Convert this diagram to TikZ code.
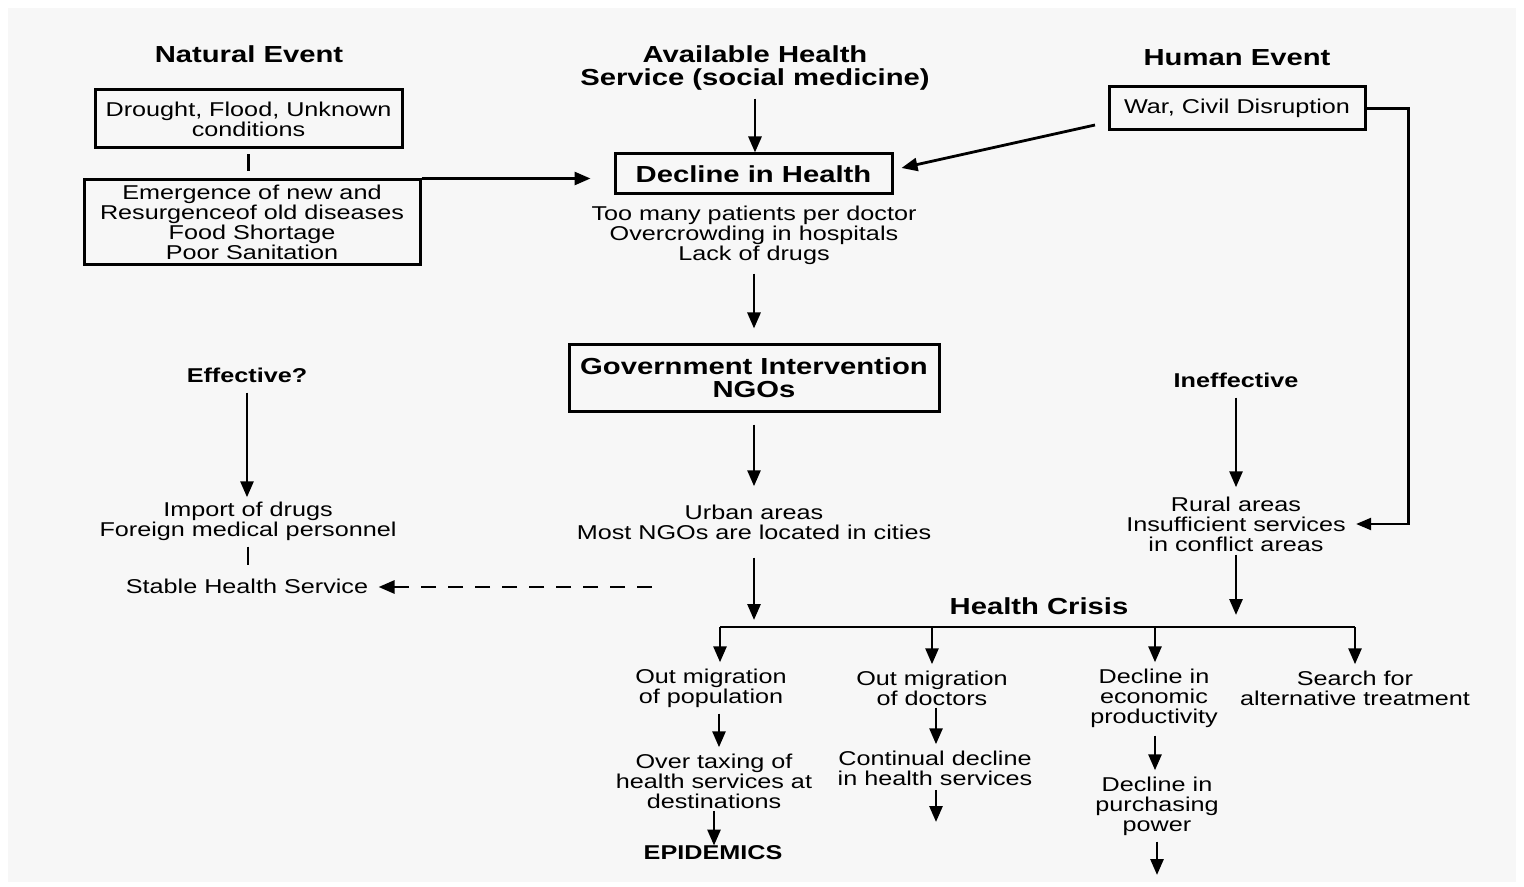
\documentclass[tikz,border=0pt]{standalone}
\usepackage{fontspec}
\setmainfont{Liberation Sans}[FakeStretch=1.26]
\usetikzlibrary{arrows.meta,calc}
\begin{document}
\begin{tikzpicture}[x=0.5pt,y=-0.5pt,
  txt/.style={font=\fontsize{10}{10}\selectfont, align=center, inner sep=1pt},
  hdr/.style={font=\fontsize{11.6}{11.5}\selectfont\bfseries, align=center, inner sep=1pt},
  sbold/.style={font=\fontsize{10}{10}\selectfont\bfseries, inner sep=1pt},
  box/.style={draw, line width=1.5pt, inner sep=0pt},
  tip/.style={-{Triangle[length=8pt,width=6.5pt]}},
  arr/.style={line width=1.4pt, tip},
  ln/.style={line width=1.4pt}]

\useasboundingbox (0,0) rectangle (1524,887);
\fill[white] (0,0) rectangle (1524,887);
\fill[black!3] (8,8) rectangle (1516,882);

% left column
\node[hdr] (nat) at (249,54) {Natural Event};
\node[txt,box,minimum width=153.5pt,minimum height=29pt] (drought) at (248.5,119) {Drought, Flood, Unknown\\conditions};
\node[txt,box,minimum width=168pt,minimum height=42.5pt] (emerg) at (252,222.5) {Emergence of new and\\Resurgenceof old diseases\\Food Shortage\\Poor Sanitation};
\node[sbold] (eff) at (247,375) {Effective?};
\node[txt] (import) at (248,521) {Import of drugs\\Foreign medical personnel};
\node[txt] (stable) at (247,586) {Stable Health Service};

% middle column
\node[hdr] (avail) at (755,68) {Available Health\\Service (social medicine)};
\node[hdr,box,minimum width=138.5pt,minimum height=20pt] (decline) at (753.5,174) {Decline in Health};
\node[txt] (symptoms) at (754,235) {Too many patients per doctor\\Overcrowding in hospitals\\Lack of drugs};
\node[hdr,box,minimum width=185pt,minimum height=33pt] (gov) at (754,378) {Government Intervention\\NGOs};
\node[txt] (urban) at (754,522) {Urban areas\\Most NGOs are located in cities};

% right column
\node[hdr] (human) at (1237,58) {Human Event};
\node[txt,box,minimum width=128pt,minimum height=21.5pt] (war) at (1237,108.5) {War, Civil Disruption};
\node[sbold] (ineff) at (1236,380) {Ineffective};
\node[txt] (rural) at (1236,524) {Rural areas\\Insufficient services\\in conflict areas};

% bottom
\node[hdr] (crisis) at (1039,606) {Health Crisis};
\node[txt] (ompop) at (711,688) {Out migration\\of population};
\node[txt] (omdoc) at (932,688) {Out migration\\of doctors};
\node[txt] (econ) at (1154,698) {Decline in\\economic\\productivity};
\node[txt] (search) at (1355,688) {Search for\\alternative treatment};
\node[txt] (overtax) at (714,781) {Over taxing of\\health services at\\destinations};
\node[sbold] (epid) at (713,853) {EPIDEMICS};
\node[txt] (contin) at (935,768) {Continual decline\\in health services};
\node[txt] (purch) at (1157,806) {Decline in\\purchasing\\power};

% free-end coordinates
\coordinate (b1) at (720,627);
\coordinate (b2) at (932,627);
\coordinate (b3) at (1155,627);
\coordinate (b4) at (1355,627);
\coordinate (u1) at (755,620);
\coordinate (r1) at (1237,615);
\coordinate (d1) at (936,822);
\coordinate (d2) at (1157,875);
\coordinate (dstart) at (652,587);
\coordinate (wstart) at (1095,125);
\coordinate (x1) at (719,0);
\coordinate (x2) at (714,0);

% connectors top
\draw[ln,shorten <=2.5pt,shorten >=3.5pt] (drought.south) -- (drought.south |- emerg.north);
\draw[arr] (emerg.north east) -- ([xshift=-11.5pt]decline.west |- emerg.north east);
\draw[arr,shorten <=3pt] (avail.south) -- (avail.south |- decline.north);
\draw[arr] (wstart) -- ([xshift=4pt,yshift=3pt]decline.east);
\draw[arr,shorten <=3.5pt,shorten >=7.5pt] (symptoms.south) -- (symptoms.south |- gov.north);
\draw[arr,shorten <=6pt,shorten >=8pt] (gov.south) -- (gov.south |- urban.north);
\draw[arr,shorten <=8pt] (urban.south) -- (urban.south |- u1);

% left
\draw[arr,shorten <=4pt,shorten >=1pt] (eff.south) -- (eff.south |- import.north);
\draw[ln,shorten <=2pt,shorten >=5.5pt] (import.south) -- (import.south |- stable.north);
\draw[line width=1.4pt,dash pattern=on 7.5pt off 6pt,tip,shorten >=4pt] (dstart) -- (stable.east |- dstart);

% right
\draw[arr,shorten <=4pt,shorten >=3.5pt] (ineff.south) -- (ineff.south |- rural.north);
\draw[arr,shorten <=0.5pt] (rural.south) -- (rural.south |- r1);
\draw[line width=1.1pt,-{Triangle[length=7.5pt,width=6pt]},shorten >=4pt] (war.east) -- ++(21pt,0) |- (rural.east);

% health crisis bar
\draw[ln] (b1) -- (b4);
\draw[arr,shorten >=2pt] (b1) -- (b1 |- ompop.north);
\draw[arr,shorten >=2pt] (b2) -- (b2 |- omdoc.north);
\draw[arr,shorten >=2pt] (b3) -- (b3 |- econ.north);
\draw[arr,shorten >=2pt] (b4) -- (b4 |- search.north);

% chains
\draw[arr,shorten <=2pt,shorten >=2pt] (x1 |- ompop.south) -- (x1 |- overtax.north);
\draw[arr,shorten >=-1pt] (x2 |- overtax.south) -- (x2 |- epid.north);
\draw[arr,shorten >=2pt] (d1 |- omdoc.south) -- (d1 |- contin.north);
\draw[arr,shorten <=1pt] (d1 |- contin.south) -- (d1);
\draw[arr,shorten <=3pt,shorten >=2pt] (b3 |- econ.south) -- (b3 |- purch.north);
\draw[arr,shorten <=2pt] (d2 |- purch.south) -- (d2);
\end{tikzpicture}
\end{document}
